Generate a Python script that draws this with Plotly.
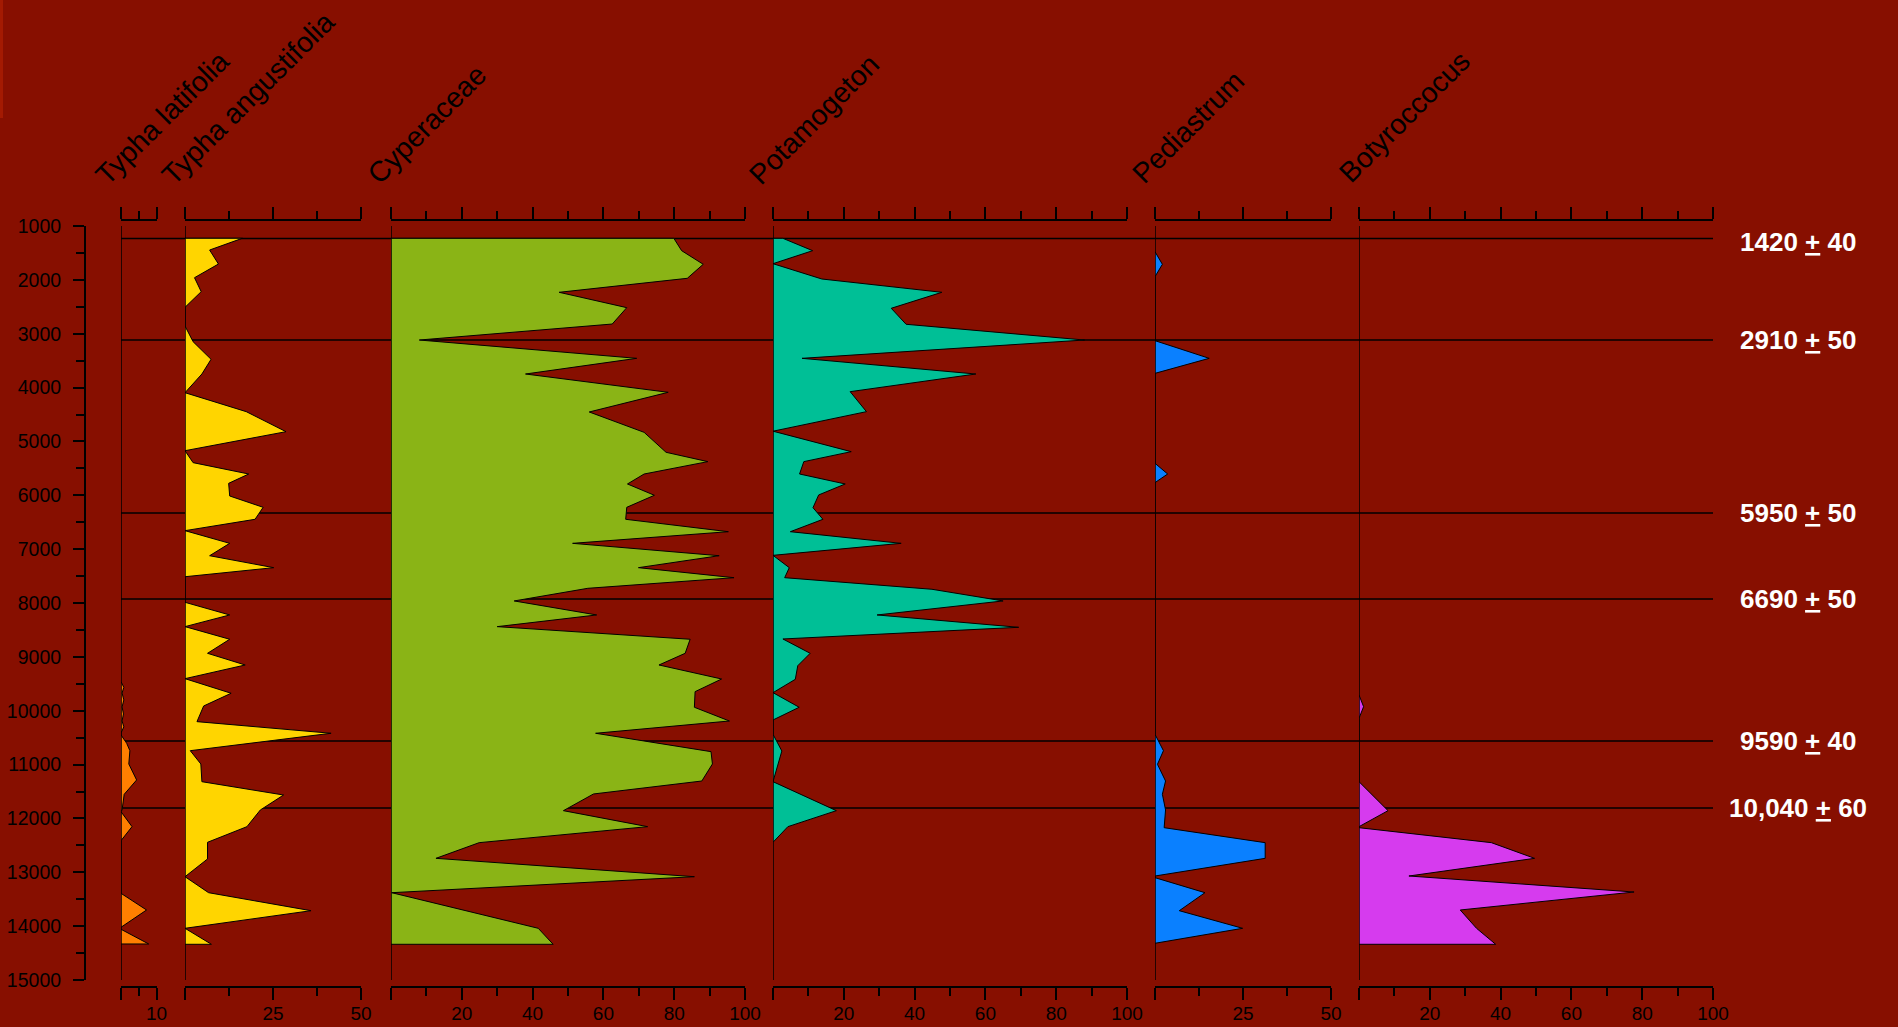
import plotly.graph_objects as go

# ---------------------------------------------------------------- data
taxa = ["Typha latifolia", "Typha angustifolia", "Cyperaceae",
        "Potamogeton", "Pediastrum", "Botyroccocus"]

typha_lat_depth = [9461, 9566, 9672, 9800, 9930, 10060, 10190, 10300, 10413,
                   10450, 10605, 10742, 10989, 11286, 11552, 11843, 11875,
                   12153, 12413, 13391, 13700, 14021, 14058, 14331]
typha_lat_pct = [0, 0.8, 0.3, 0.8, 0.3, 0.7, 0.3, 0.8, 0,
                 0, 1.6, 2.5, 2.2, 4.4, 0.9, 0.3, 0,
                 3.1, 0, 0, 7.2, 0, 0, 7.8]

typha_ang_depth = [1228, 1446, 1706, 1960, 2219, 2510, 2857, 3148, 3475, 3748,
                   4095, 4447, 4819, 5172, 5394, 5605, 5778, 6013, 6223, 6446,
                   6657, 6892, 7122, 7344, 7512, 7987, 8222, 8439, 8673, 8934,
                   9151, 9405, 9676, 9912, 10203, 10419, 10742, 10989, 11318,
                   11565, 11843, 12153, 12443, 12753, 13082, 13379, 13713,
                   14040, 14337]
typha_ang_pct = [16.3, 7.0, 9.5, 2.7, 4.6, 0, 0, 2.3, 7.4, 4.8,
                 0, 17.4, 28.7, 0, 2.3, 18.1, 12.4, 12.7, 22.2, 19.9,
                 0, 12.7, 7.0, 25.2, 0, 0, 12.7, 0, 12.7, 6.4,
                 17.1, 0, 13.1, 5.3, 3.4, 41.5, 1.5, 4.5, 4.8,
                 28.0, 21.4, 17.6, 6.4, 6.4, 0, 6.7, 35.8,
                 0, 7.5]

cyper_depth = [1229, 1458, 1711, 1971, 2231, 2516, 2820, 3117, 3457, 3748,
               4088, 4453, 4831, 5202, 5375, 5605, 5790, 6000, 6223, 6446,
               6676, 6892, 7122, 7344, 7530, 7727, 7962, 8222, 8439, 8673,
               8934, 9151, 9411, 9646, 9936, 10191, 10419, 10760, 10989,
               11305, 11546, 11856, 12153, 12450, 12741, 13082, 13379,
               14040, 14337]
cyper_pct = [79.9, 82.1, 88.2, 83.7, 47.5, 66.6, 62.5, 8.0, 69.4, 38.0,
             78.3, 56.0, 71.5, 77.7, 89.5, 71.5, 66.8, 74.4, 66.6, 66.3,
             95.3, 51.3, 92.7, 69.9, 96.9, 55.6, 34.8, 58.1, 30.0, 84.5,
             83.1, 75.7, 93.4, 85.9, 85.7, 95.6, 57.8, 90.4, 90.8,
             87.8, 57.2, 48.7, 72.5, 24.9, 12.7, 85.7, 0.2,
             41.6, 45.8]

potam_depth = [1229, 1458, 1700, 1984, 2231, 2528, 2825, 3117, 3457, 3748,
               4076, 4447, 4810, 5190, 5375, 5605, 5790, 5994, 6230, 6446,
               6676, 6892, 7115, 7344, 7530, 7745, 7962, 8222, 8451, 8668,
               8934, 9164, 9417, 9665, 9936, 10172, 10438, 10748, 11318,
               11856, 12153, 12443]
potam_pct = [2.8, 11.2, 0, 13.8, 47.7, 33.4, 37.6, 88.0, 8.2, 57.3,
             21.8, 26.4, 0, 22.1, 8.7, 7.5, 20.4, 12.9, 11.3, 14.1,
             4.9, 36.2, 0, 4.6, 3.3, 44.9, 65.0, 29.4, 69.4, 2.8,
             10.5, 7.0, 6.3, 0, 7.4, 0, 0, 2.5, 0,
             17.9, 4.2, 0]

pedia_depth = [1477, 1711, 1941, 3129, 3457, 3736, 5406, 5605, 5765, 10438,
               10742, 10995, 11305, 11552, 11843, 12172, 12450, 12741, 13069,
               13100, 13379, 13713, 14040, 14318]
pedia_pct = [0, 2.1, 0, 0, 15.4, 0, 0, 3.6, 0, 0,
             2.4, 0.7, 3.0, 2.1, 3.0, 2.6, 31.3, 31.3, 0,
             0, 14.2, 6.9, 24.9, 0]

botry_depth = [9708, 9925, 10141, 11318, 11856, 12153, 12172, 12450, 12741,
               13069, 13366, 13700, 14040, 14337]
botry_pct = [0, 1.3, 0, 0, 8.2, 0, 0, 37.4, 49.6,
             14.1, 77.7, 28.6, 33.2, 38.6]

# radiocarbon dates: depth of the horizon, age and error
date_depth = [1230, 3117, 6330, 7925, 10562, 11806]
date_age = ["1420", "2910", "5950", "6690", "9590", "10,040"]
date_err = [40, 50, 50, 50, 40, 60]

depth_ticks = list(range(1000, 15001, 1000))
depth_labels = [str(v) for v in depth_ticks]

# ---------------------------------------------------------------- layout
W, H = 1898, 1027
ML, MR, MT, MB = 85, 185, 220, 40
PW, PH = W - ML - MR, H - MT - MB


def fx(p):
    return (p - ML) / PW


def fy(p):
    return (H - MB - p) / PH


BG = "#870f00"
FONT = "Liberation Sans, Arial, sans-serif"

panels = [
    dict(depth=typha_lat_depth, pct=typha_lat_pct, px=(121, 156.5), top=10,
         major=[0, 10], minor=[5], color="#ff7f00", title_c=(162, 118)),
    dict(depth=typha_ang_depth, pct=typha_ang_pct, px=(185, 361), top=50,
         major=[0, 25, 50], minor=[12.5, 37.5], color="#ffd500", title_c=(248, 98)),
    dict(depth=cyper_depth, pct=cyper_pct, px=(391, 745), top=100,
         major=list(range(0, 101, 20)), minor=list(range(10, 100, 20)),
         color="#8ab416", title_c=(427, 124)),
    dict(depth=potam_depth, pct=potam_pct, px=(773, 1127), top=100,
         major=list(range(0, 101, 20)), minor=list(range(10, 100, 20)),
         color="#00bf96", title_c=(814, 119)),
    dict(depth=pedia_depth, pct=pedia_pct, px=(1155, 1331), top=50,
         major=[0, 25, 50], minor=[12.5, 37.5], color="#0a80ff", title_c=(1188, 127)),
    dict(depth=botry_depth, pct=botry_pct, px=(1359, 1713), top=100,
         major=list(range(0, 101, 20)), minor=list(range(10, 100, 20)),
         color="#d63bee", title_c=(1404, 117)),
]

fig = go.Figure()
layout = dict(
    width=W, height=H, autosize=False,
    margin=dict(l=ML, r=MR, t=MT, b=MB, pad=0),
    paper_bgcolor=BG, plot_bgcolor="rgba(0,0,0,0)",
    showlegend=False,
    font=dict(family=FONT, color="black"),
    yaxis=dict(
        domain=[fy(980), fy(226)], range=[15000, 1000], anchor="free", position=0,
        tickmode="array", tickvals=depth_ticks, ticktext=depth_labels,
        ticks="outside", ticklen=11, tickwidth=1.5, tickcolor="black",
        minor=dict(dtick=500, tick0=0, ticks="outside", ticklen=8,
                   tickwidth=1.5, tickcolor="black"),
        showline=True, linecolor="black", linewidth=2,
        showgrid=False, zeroline=False, automargin=False,
        ticklabelstandoff=8,
        tickfont=dict(family=FONT, size=19.5, color="black"),
    ),
)

shapes = []
annotations = []
n = len(panels)
for i, p in enumerate(panels):
    k = i + 1
    kt = i + 1 + n
    xa = "x" if k == 1 else f"x{k}"
    xt = f"x{kt}"
    dom = [fx(p["px"][0]), fx(p["px"][1])]
    ticktext = ["" if v == 0 else f"{v:g}" for v in p["major"]]
    common = dict(
        domain=dom, range=[0, p["top"]], anchor="free",
        tickmode="array", tickvals=p["major"],
        ticks="outside", ticklen=12, tickwidth=1.5, tickcolor="black",
        minor=dict(tickvals=p["minor"], ticks="outside", ticklen=8,
                   tickwidth=1.5, tickcolor="black"),
        showline=True, linecolor="black", linewidth=2,
        showgrid=False, zeroline=False, automargin=False,
    )
    layout[f"xaxis{'' if k == 1 else k}"] = dict(
        common, position=0, side="bottom", ticktext=ticktext,
        ticklabelstandoff=-3,
        tickfont=dict(family=FONT, size=19, color="black"),
    )
    layout[f"xaxis{kt}"] = dict(
        common, position=1, side="top", overlaying=xa, showticklabels=False,
    )

    xs = [0] + p["pct"] + [0]
    ys = [p["depth"][0]] + p["depth"] + [p["depth"][-1]]
    fig.add_trace(go.Scatter(
        x=xs, y=ys, xaxis=xa, yaxis="y", mode="lines",
        fill="tozerox", fillcolor=p["color"],
        line=dict(color="black", width=1), hoverinfo="skip",
    ))
    fig.add_trace(go.Scatter(x=[None], y=[None], xaxis=xt, yaxis="y",
                             mode="lines", hoverinfo="skip"))

    # zero line of the panel
    shapes.append(dict(type="line", xref=xa, yref="y", x0=0, x1=0,
                       y0=1000, y1=15000, layer="above",
                       line=dict(color="black", width=1.5)))

    cx, cy = p["title_c"]
    annotations.append(dict(
        text=taxa[i], xref="paper", yref="paper", x=fx(cx), y=fy(cy),
        xanchor="center", yanchor="middle", textangle=-45, showarrow=False,
        font=dict(family=FONT, size=28.5, color="black"),
    ))

# dated horizons across the diagram
for d, age, err in zip(date_depth, date_age, date_err):
    shapes.append(dict(type="line", xref="paper", yref="y", x0=fx(121), x1=1,
                       y0=d, y1=d, layer="below",
                       line=dict(color="black", width=1.5)))
    annotations.append(dict(
        text=f"<b>{age} <u>+</u> {err}</b>", xref="paper", yref="y",
        x=fx(1798), y=d, xanchor="center", yanchor="middle",
        yshift=-4 if d == date_depth[0] else 0, showarrow=False,
        font=dict(family=FONT, size=26, color="white"),
    ))

# light strip on the upper left border
shapes.append(dict(type="rect", xref="paper", yref="paper", x0=fx(0), x1=fx(3),
                   y0=fy(118), y1=fy(0), layer="below", line=dict(width=0),
                   fillcolor="#a31a02"))

layout["shapes"] = shapes
layout["annotations"] = annotations
fig.update_layout(**layout)

fig.write_html("out.html", config={"displayModeBar": False})
